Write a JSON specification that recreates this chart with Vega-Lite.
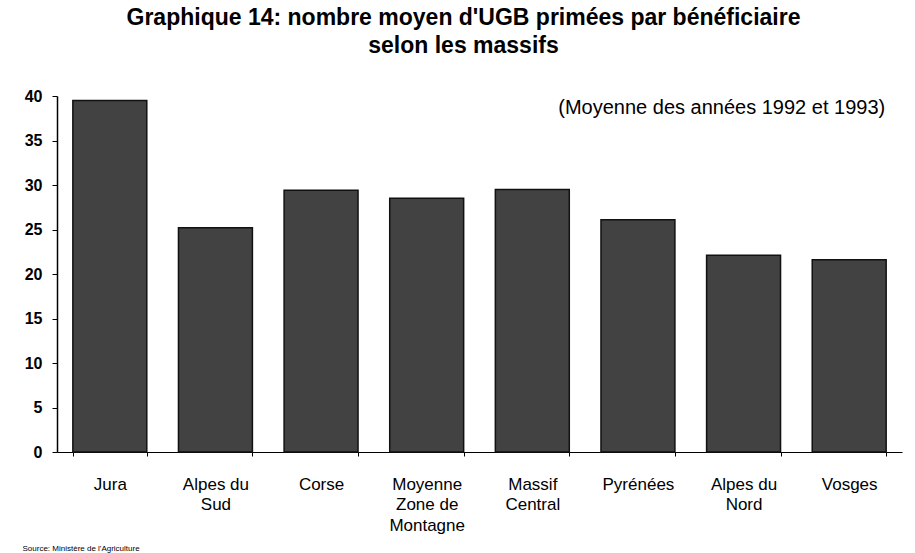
{
  "$schema": "https://vega.github.io/schema/vega-lite/v6.json",
  "width": 845,
  "height": 356,
  "autosize": "none",
  "padding": {"left": 57, "top": 96, "right": 13, "bottom": 101},
  "background": "white",
  "config": {
    "view": {"stroke": null},
    "font": "Liberation Sans"
  },
  "title": {
    "text": ["Graphique 14: nombre moyen d'UGB primées par bénéficiaire", "selon les massifs"],
    "fontSize": 23,
    "fontWeight": "bold",
    "font": "Liberation Sans",
    "lineHeight": 28,
    "anchor": "middle",
    "frame": "group",
    "dx": -16,
    "offset": 30,
    "color": "black"
  },
  "layer": [
    {
      "data": {
        "values": [
          {"massif": "Jura", "ugb": 39.5},
          {"massif": "Alpes du|Sud", "ugb": 25.2},
          {"massif": "Corse", "ugb": 29.4},
          {"massif": "Moyenne|Zone de|Montagne", "ugb": 28.5},
          {"massif": "Massif|Central", "ugb": 29.5},
          {"massif": "Pyrénées", "ugb": 26.1},
          {"massif": "Alpes du|Nord", "ugb": 22.1},
          {"massif": "Vosges", "ugb": 21.6}
        ]
      },
      "mark": {"type": "bar", "fill": "#424242", "stroke": "#111111", "strokeWidth": 1.5},
      "encoding": {
        "x": {
          "field": "massif",
          "type": "nominal",
          "sort": null,
          "scale": {"paddingInner": 0.3, "paddingOuter": 0.15},
          "axis": {
            "title": "Source: Ministère de l'Agriculture",
            "titleX": -35,
            "titleY": 96,
            "titleAlign": "left",
            "titleBaseline": "middle",
            "titleFontSize": 8,
            "titleFontWeight": "normal",
            "titleColor": "black",
            "labelExpr": "isValid(datum.value) ? split(datum.value, '|') : ''",
            "labelAngle": 0,
            "labelFontSize": 17,
            "labelLineHeight": 20.5,
            "labelPadding": 20,
            "labelColor": "black",
            "labelBaseline": "top",
            "domainColor": "black",
            "domainWidth": 1,
            "tickBand": "extent",
            "tickColor": "black",
            "tickSize": 4,
            "ticks": true
          }
        },
        "y": {
          "field": "ugb",
          "type": "quantitative",
          "scale": {"domain": [0, 40], "nice": false},
          "axis": {
            "title": null,
            "values": [0, 5, 10, 15, 20, 25, 30, 35, 40],
            "labelFontSize": 16,
            "labelFontWeight": "bold",
            "labelColor": "black",
            "labelPadding": 10,
            "tickSize": 5,
            "tickColor": "black",
            "domainColor": "black",
            "domainWidth": 1.5,
            "grid": false
          }
        }
      }
    },
    {
      "data": {"values": [{"note": "(Moyenne des années 1992 et 1993)"}]},
      "mark": {"type": "text", "align": "right", "baseline": "middle", "fontSize": 20, "dx": 36, "color": "black"},
      "encoding": {
        "x": {"datum": "Vosges", "type": "nominal"},
        "y": {"datum": 38.6, "type": "quantitative"},
        "text": {"field": "note", "type": "nominal"}
      }
    }
  ]
}
